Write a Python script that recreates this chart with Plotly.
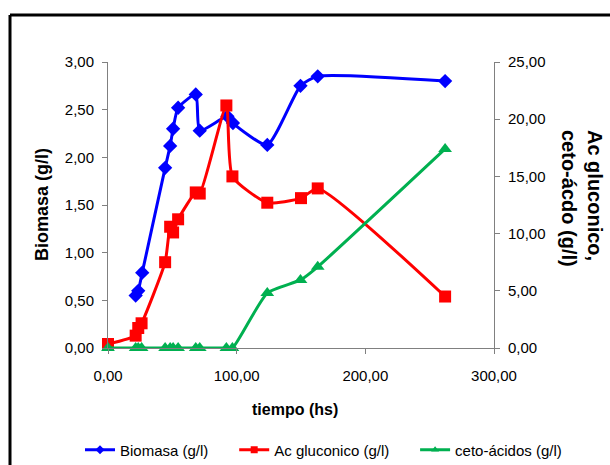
import plotly.graph_objects as go

# ---- data ----
tiempo_bio = [21.5, 23.5, 26.6, 44.4, 48.3, 50.6, 54.5, 68.2, 71.3, 92.8, 97.1, 123.8, 149.6, 163.0, 262.0]
biomasa = [0.55, 0.60, 0.79, 1.89, 2.12, 2.30, 2.52, 2.66, 2.28, 2.43, 2.36, 2.13, 2.75, 2.85, 2.80]

tiempo_gluc = [0.0, 21.5, 23.5, 26.1, 44.4, 48.3, 50.6, 54.5, 68.2, 71.3, 92.0, 96.7, 123.8, 150.0, 163.0, 262.0]
ac_gluconico = [0.35, 1.08, 1.75, 2.16, 7.5, 10.6, 10.1, 11.25, 13.6, 13.5, 21.2, 15.0, 12.7, 13.1, 13.95, 4.5]

tiempo_ceto = [0.0, 21.5, 23.5, 26.1, 44.4, 48.3, 50.6, 54.5, 68.2, 71.3, 92.0, 96.7, 123.8, 149.6, 163.0, 262.0]
ceto_acidos = [0.0, 0.0, 0.0, 0.0, 0.0, 0.0, 0.0, 0.0, 0.0, 0.0, 0.0, 0.0, 4.8, 5.95, 7.1, 17.4]

series_names = ["Biomasa (g/l)", "Ac gluconico (g/l)", "ceto-ácidos (g/l)"]
colors = ["#0000FF", "#FF0000", "#00B050"]

x_ticks = [0, 100, 200, 300]
y_ticks = [0, 0.5, 1.0, 1.5, 2.0, 2.5, 3.0]
y2_ticks = [0, 5, 10, 15, 20, 25]

FONT = "Liberation Sans, Arial, sans-serif"
SMOOTH = 0.55

fig = go.Figure()

fig.add_trace(go.Scatter(
    x=tiempo_bio, y=biomasa, mode="lines+markers", name=series_names[0],
    line=dict(color=colors[0], width=3, shape="spline", smoothing=SMOOTH),
    marker=dict(symbol="diamond", size=11, color=colors[0]),
    cliponaxis=False, showlegend=False, yaxis="y"))
fig.add_trace(go.Scatter(
    x=tiempo_gluc, y=ac_gluconico, mode="lines+markers", name=series_names[1],
    line=dict(color=colors[1], width=3, shape="spline", smoothing=SMOOTH),
    marker=dict(symbol="square", size=12, color=colors[1]),
    cliponaxis=False, showlegend=False, yaxis="y2"))
fig.add_trace(go.Scatter(
    x=tiempo_ceto, y=ceto_acidos, mode="lines+markers", name=series_names[2],
    line=dict(color=colors[2], width=3, shape="spline", smoothing=SMOOTH),
    marker=dict(symbol="triangle-up", size=12, color=colors[2]),
    cliponaxis=False, showlegend=False, yaxis="y2"))

# legend entries (small markers like the original); padding to reproduce the spacing
pads = ["\u00a0" * 5, "\u00a0" * 5, ""]
for name, col, sym, pad in zip(series_names, colors, ["diamond", "square", "triangle-up"], pads):
    fig.add_trace(go.Scatter(
        x=[None], y=[None], mode="lines+markers", name=name + pad,
        line=dict(color=col, width=3), marker=dict(symbol=sym, size=7, color=col)))

L, R, T, B = 108, 116, 62, 117
W, H = 610, 465
pw, ph = W - L - R, H - T - B

def px(xp):
    return (xp - L) / pw

def py(yp):
    return (H - B - yp) / ph

axis_common = dict(showgrid=False, zeroline=False, showline=True, linecolor="#808080",
                   linewidth=1, ticks="outside", ticklen=5, tickcolor="#808080",
                   tickfont=dict(family=FONT, size=15, color="#000"), tickformat=".2f")

fig.update_layout(
    width=W, height=H, margin=dict(l=L, r=R, t=T, b=B, pad=0, autoexpand=False),
    paper_bgcolor="white", plot_bgcolor="white",
    separators=",.",
    font=dict(family=FONT, color="#000"),
    xaxis=dict(range=[0, 300], tickvals=x_ticks, ticklabelstandoff=9, **axis_common),
    yaxis=dict(range=[0, 3], tickvals=y_ticks, ticklabelstandoff=5, **axis_common),
    yaxis2=dict(range=[0, 25], tickvals=y2_ticks, overlaying="y", side="right",
                anchor="x", ticklabelstandoff=5, **axis_common),
    # inner half of the crossing tick marks on the right axis
    yaxis3=dict(range=[0, 25], tickvals=y2_ticks, overlaying="y", side="right", anchor="x",
                showgrid=False, zeroline=False, showline=False, showticklabels=False,
                ticks="inside", ticklen=5, tickcolor="#808080"),
    showlegend=True,
    legend=dict(orientation="h", x=px(80), y=py(450), xanchor="left", yanchor="middle",
                font=dict(family=FONT, size=15, color="#000"), bgcolor="rgba(0,0,0,0)"),
    annotations=[
        dict(text="<b>Biomasa (g/l)</b>", xref="paper", yref="paper", x=px(42), y=py(205),
             xanchor="center", yanchor="middle",
             showarrow=False, textangle=-90, font=dict(family=FONT, size=18, color="#000")),
        dict(text="<b>Ac gluconico,<br>ceto-ácdo (g/l)</b>", xref="paper", yref="paper",
             x=px(582), y=py(198), xanchor="center", yanchor="middle",
             showarrow=False, textangle=90, align="left",
             font=dict(family=FONT, size=20, color="#000")),
        dict(text="<b>tiempo (hs)</b>", xref="paper", yref="paper", x=px(295), y=py(410),
             xanchor="center", yanchor="middle",
             showarrow=False, font=dict(family=FONT, size=16, color="#000")),
    ],
    shapes=[
        dict(type="line", xref="paper", yref="paper", x0=px(10), x1=px(10), y0=py(480), y1=py(15),
             line=dict(color="#000", width=3)),
        dict(type="line", xref="paper", yref="paper", x0=px(10), x1=px(630), y0=py(15), y1=py(15),
             line=dict(color="#000", width=3)),
    ],
)

fig.write_html("out.html")
